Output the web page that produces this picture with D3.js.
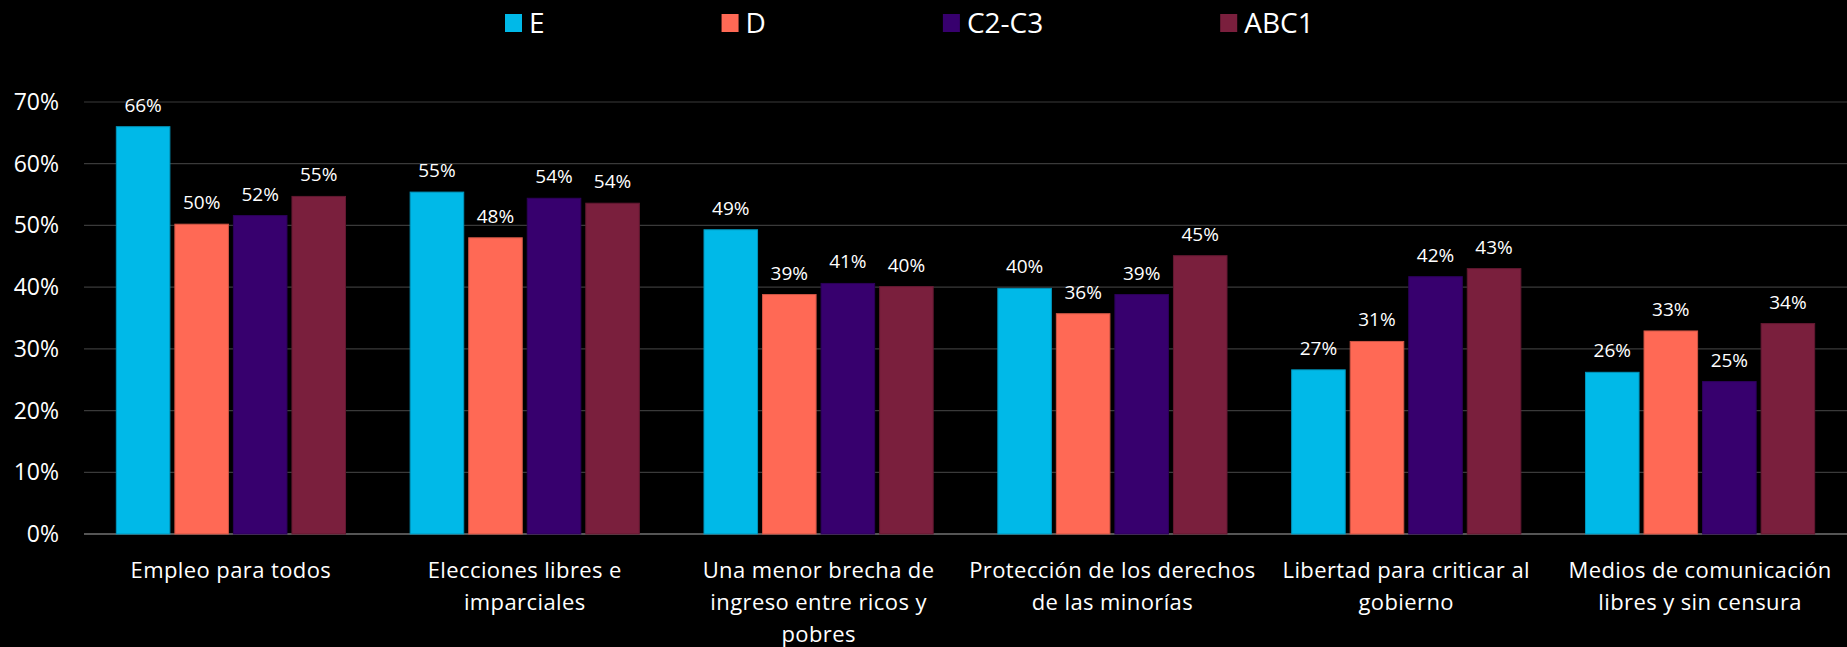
<!DOCTYPE html>
<html>
<head>
<meta charset="utf-8">
<script src="https://cdn.jsdelivr.net/npm/d3@7"></script>
<style>
  html, body { margin: 0; padding: 0; background: #000; }
  svg { display: block; }
  text { font-family: "Open Sans", "DejaVu Sans", sans-serif; fill: #fff; }
</style>
</head>
<body>
<svg id="chart"></svg>
<script>
const categories = [
    ["Empleo para todos"],
    ["Elecciones libres e", "imparciales"],
    ["Una menor brecha de", "ingreso entre ricos y", "pobres"],
    ["Protección de los derechos", "de las minorías"],
    ["Libertad para criticar al", "gobierno"],
    ["Medios de comunicación", "libres y sin censura"]
];
const seriesNames = ["E", "D", "C2-C3", "ABC1"];
const seriesColors = ["#00b9e8", "#ff6955", "#37006e", "#7a1f3d"];
const valuesE = [66.0, 55.4, 49.3, 39.8, 26.6, 26.2];
const valuesD = [50.2, 48.0, 38.8, 35.7, 31.2, 32.9];
const valuesC = [51.6, 54.4, 40.6, 38.8, 41.7, 24.7];
const valuesABC1 = [54.7, 53.6, 40.1, 45.1, 43.0, 34.1];
const yTicks = [0, 10, 20, 30, 40, 50, 60, 70];

const allSeries = [valuesE, valuesD, valuesC, valuesABC1];

const width = 1847, height = 647;
const margin = { top: 102, right: 0, bottom: 113, left: 84 };

const svg = d3.select("#chart")
    .attr("width", width)
    .attr("height", height)
    .attr("viewBox", `0 0 ${width} ${height}`);

const x0 = d3.scaleBand()
    .domain(d3.range(categories.length))
    .range([margin.left, width - margin.right])
    .paddingInner(0.22)
    .paddingOuter(0.11);

const x1 = d3.scaleBand()
    .domain(d3.range(seriesNames.length))
    .range([0, x0.bandwidth()])
    .paddingInner(0.085);

const y = d3.scaleLinear()
    .domain([0, 70])
    .range([height - margin.bottom, margin.top]);

// gridlines
svg.append("g")
    .selectAll("line")
    .data(yTicks)
    .join("line")
    .attr("x1", margin.left)
    .attr("x2", width)
    .attr("y1", d => y(d))
    .attr("y2", d => y(d))
    .attr("stroke", d => d === 0 ? "#555" : "#3a3a3a")
    .attr("stroke-width", d => d === 0 ? 2 : 1.2);

// y tick labels
svg.append("g")
    .selectAll("text")
    .data(yTicks)
    .join("text")
    .attr("x", 59)
    .attr("y", d => y(d))
    .attr("dy", "0.35em")
    .attr("text-anchor", "end")
    .attr("font-size", 23)
    .text(d => d + "%");

// bars
const groups = svg.append("g")
    .selectAll("g")
    .data(categories.map((c, i) => i))
    .join("g")
    .attr("transform", i => `translate(${x0(i)},0)`);

groups.selectAll("rect")
    .data(i => allSeries.map((s, k) => ({ k, v: s[i] })))
    .join("rect")
    .attr("x", d => x1(d.k))
    .attr("width", x1.bandwidth())
    .attr("y", d => y(d.v))
    .attr("height", d => y(0) - y(d.v))
    .attr("fill", d => seriesColors[d.k])
    .attr("stroke", d => d3.color(seriesColors[d.k]).darker(0.6))
    .attr("stroke-width", 1);

groups.selectAll("text")
    .data(i => allSeries.map((s, k) => ({ k, v: s[i] })))
    .join("text")
    .attr("x", d => x1(d.k) + x1.bandwidth() / 2)
    .attr("y", d => y(d.v) - 15)
    .attr("text-anchor", "middle")
    .attr("font-size", 19)
    .text(d => Math.round(d.v) + "%");

// category labels
const catLabels = svg.append("g")
    .selectAll("text")
    .data(categories)
    .join("text")
    .attr("text-anchor", "middle")
    .attr("font-size", 22)
    .attr("letter-spacing", 0.4)
    .attr("transform", (d, i) => `translate(${x0(i) + x0.bandwidth() / 2},578)`);

catLabels.selectAll("tspan")
    .data(d => d)
    .join("tspan")
    .attr("x", 0)
    .attr("y", (d, j) => j * 32)
    .text(d => d);

// legend
const legend = svg.append("g");
let lx = 505;
seriesNames.forEach((name, k) => {
    legend.append("rect")
        .attr("x", lx)
        .attr("y", 14)
        .attr("width", 17)
        .attr("height", 18)
        .attr("fill", seriesColors[k]);
    const t = legend.append("text")
        .attr("x", lx + 24)
        .attr("y", 33)
        .attr("font-size", 28)
        .text(name);
    lx += 24 + t.node().getComputedTextLength() + 177;
});
</script>
</body>
</html>
